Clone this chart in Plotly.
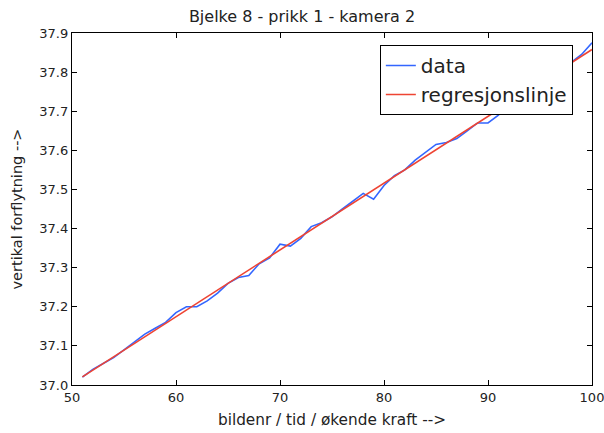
import numpy as np
import plotly.graph_objects as go

frames = list(range(51, 101))
displacement = [
    37.020, 37.040, 37.055, 37.070, 37.090, 37.110, 37.130, 37.145, 37.160, 37.185,
    37.200, 37.200, 37.215, 37.235, 37.260, 37.275, 37.280, 37.310, 37.325, 37.360,
    37.355, 37.375, 37.405, 37.415, 37.430, 37.450, 37.470, 37.490, 37.475, 37.510,
    37.535, 37.550, 37.575, 37.595, 37.615, 37.620, 37.630, 37.650, 37.670, 37.670,
    37.690, 37.720, 37.740, 37.755, 37.770, 37.790, 37.805, 37.825, 37.845, 37.875,
]

title = "Bjelke 8 - prikk 1 - kamera 2"
xlabel = "bildenr / tid / økende kraft -->"
ylabel = "vertikal forflytning -->"
series_names = ["data", "regresjonslinje"]
x_ticks = [50, 60, 70, 80, 90, 100]
y_ticks = [37.0, 37.1, 37.2, 37.3, 37.4, 37.5, 37.6, 37.7, 37.8, 37.9]

coef = np.polyfit(frames, displacement, 1)
reg = list(np.polyval(coef, frames))

font = "DejaVu Sans"
fig = go.Figure()
fig.add_trace(go.Scatter(x=frames, y=displacement, mode="lines", name=series_names[0],
                         line=dict(color="#3366ff", width=1.6)))
fig.add_trace(go.Scatter(x=frames, y=reg, mode="lines", name=series_names[1],
                         line=dict(color="#ee4433", width=1.6)))

axis_common = dict(showgrid=False, zeroline=False, showline=True, linecolor="black",
                   linewidth=1.3, mirror="ticks", ticks="inside", ticklen=5,
                   tickcolor="black", automargin=False, ticklabeloverflow="allow",
                   tickfont=dict(family=font, size=13, color="#222"))
fig.update_layout(
    width=604, height=433,
    margin=dict(l=72, r=12, t=33, b=48),
    paper_bgcolor="white", plot_bgcolor="white",
    font=dict(family=font, color="#222"),
    title=dict(text=title, x=0.5, xanchor="center", y=0.975, yanchor="top",
               font=dict(family=font, size=16, color="#222")),
    xaxis=dict(range=[50, 100.0001], tickvals=x_ticks, ticktext=[str(v) for v in x_ticks],
               title=dict(text=xlabel, font=dict(family=font, size=15.3), standoff=10),
               **axis_common),
    yaxis=dict(range=[37.0, 37.9], tickvals=y_ticks,
               ticktext=[f"{v:.1f}" for v in y_ticks],
               title=dict(text=ylabel, font=dict(family=font, size=14.5), standoff=13),
               **axis_common),
    legend=dict(x=0.592, y=0.966, xanchor="left", yanchor="top",
                bgcolor="white", bordercolor="black", borderwidth=1,
                font=dict(family=font, size=20, color="#222"),
                tracegroupgap=0),
    showlegend=True,
)

fig.write_html("out.html")
